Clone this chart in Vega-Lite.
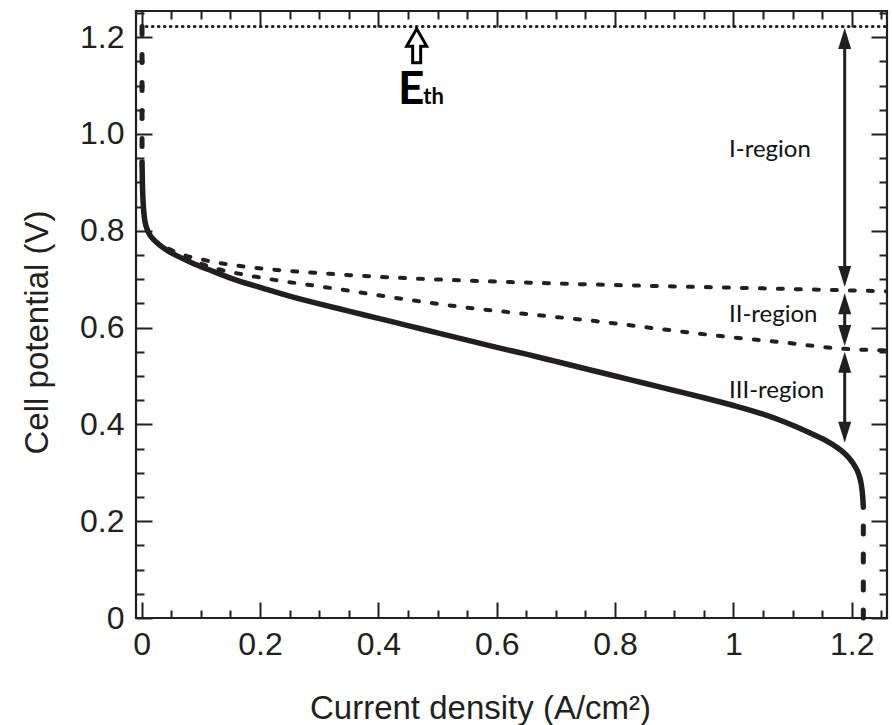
{
  "$schema": "https://vega.github.io/schema/vega-lite/v6.json",
  "width": 751,
  "height": 607,
  "autosize": {"type": "none"},
  "padding": {"left": 136, "top": 11, "right": 5, "bottom": 107},
  "background": "white",
  "config": {
    "view": {"stroke": "#231f20", "strokeWidth": 2.2},
    "axis": {
      "domain": false,
      "grid": false,
      "tickColor": "#231f20",
      "tickWidth": 2,
      "labelFont": "Liberation Sans",
      "labelFontSize": 32,
      "labelColor": "#231f20",
      "titleFont": "Liberation Sans",
      "titleFontSize": 33,
      "titleFontWeight": "normal",
      "titleColor": "#231f20"
    }
  },
  "datasets": {
    "eth": [{"x": 0.008, "y": 1.222}, {"x": 1.2595, "y": 1.222}],
    "solid": [
      {"x": 0.0006, "y": 0.942}, {"x": 0.0012, "y": 0.9}, {"x": 0.002, "y": 0.87}, {"x": 0.003, "y": 0.848},
      {"x": 0.0045, "y": 0.828}, {"x": 0.0065, "y": 0.814}, {"x": 0.0095, "y": 0.802}, {"x": 0.014, "y": 0.791},
      {"x": 0.02, "y": 0.782}, {"x": 0.03, "y": 0.771}, {"x": 0.045, "y": 0.758}, {"x": 0.065, "y": 0.745},
      {"x": 0.09, "y": 0.731}, {"x": 0.121, "y": 0.716}, {"x": 0.16, "y": 0.698}, {"x": 0.2055, "y": 0.681},
      {"x": 0.25, "y": 0.665}, {"x": 0.3, "y": 0.649}, {"x": 0.35, "y": 0.634}, {"x": 0.4, "y": 0.619},
      {"x": 0.45, "y": 0.604}, {"x": 0.5, "y": 0.589}, {"x": 0.55, "y": 0.574}, {"x": 0.6, "y": 0.559},
      {"x": 0.65, "y": 0.545}, {"x": 0.7, "y": 0.53}, {"x": 0.75, "y": 0.515}, {"x": 0.8, "y": 0.5},
      {"x": 0.85, "y": 0.485}, {"x": 0.9, "y": 0.47}, {"x": 0.95, "y": 0.455}, {"x": 1.0, "y": 0.439},
      {"x": 1.05, "y": 0.421}, {"x": 1.08, "y": 0.408}, {"x": 1.11, "y": 0.393}, {"x": 1.135, "y": 0.379},
      {"x": 1.16, "y": 0.364}, {"x": 1.18, "y": 0.348}, {"x": 1.195, "y": 0.331}, {"x": 1.205, "y": 0.314},
      {"x": 1.212, "y": 0.296}, {"x": 1.216, "y": 0.276}, {"x": 1.2185, "y": 0.25}, {"x": 1.2195, "y": 0.229}
    ],
    "upper": [
      {"x": 0.02, "y": 0.782}, {"x": 0.03, "y": 0.773}, {"x": 0.045, "y": 0.763}, {"x": 0.065, "y": 0.7525},
      {"x": 0.1, "y": 0.741}, {"x": 0.161, "y": 0.728}, {"x": 0.22, "y": 0.72}, {"x": 0.318, "y": 0.711},
      {"x": 0.45, "y": 0.702}, {"x": 0.6, "y": 0.695}, {"x": 0.763, "y": 0.689}, {"x": 0.9, "y": 0.685},
      {"x": 1.05, "y": 0.681}, {"x": 1.188, "y": 0.677}, {"x": 1.2595, "y": 0.675}
    ],
    "lower": [
      {"x": 0.02, "y": 0.782}, {"x": 0.035, "y": 0.768}, {"x": 0.055, "y": 0.754}, {"x": 0.08, "y": 0.741},
      {"x": 0.127, "y": 0.7215}, {"x": 0.17, "y": 0.71}, {"x": 0.222, "y": 0.699}, {"x": 0.318, "y": 0.682},
      {"x": 0.42, "y": 0.663}, {"x": 0.538, "y": 0.643}, {"x": 0.65, "y": 0.628}, {"x": 0.769, "y": 0.613},
      {"x": 0.87, "y": 0.598}, {"x": 0.966, "y": 0.584}, {"x": 1.079, "y": 0.57}, {"x": 1.188, "y": 0.556},
      {"x": 1.2595, "y": 0.553}
    ],
    "vleft": [{"x": 0.0006, "y": 1.222, "y2": 0.95}],
    "vright": [{"x": 1.2195, "y": 0.0, "y2": 0.225}],
    "shafts": [
      {"x": 1.188, "y": 1.205, "y2": 0.698},
      {"x": 1.188, "y": 0.657, "y2": 0.576},
      {"x": 1.188, "y": 0.536, "y2": 0.376}
    ],
    "heads": [
      {"x": 1.188, "y": 1.219, "dir": "up"},
      {"x": 1.188, "y": 0.684, "dir": "down"},
      {"x": 1.188, "y": 0.671, "dir": "up"},
      {"x": 1.188, "y": 0.562, "dir": "down"},
      {"x": 1.188, "y": 0.55, "dir": "up"},
      {"x": 1.188, "y": 0.362, "dir": "down"}
    ],
    "eth_arrow": [{"x": 0.4647, "y": 1.2175}],
    "regions": [
      {"x": 0.9925, "y": 0.952, "label": "I-region"},
      {"x": 0.9925, "y": 0.611, "label": "II-region"},
      {"x": 0.9925, "y": 0.454, "label": "III-region"}
    ],
    "e_big": [{"x": 0.433, "y": 1.062, "label": "E"}],
    "e_sub": [{"x": 0.476, "y": 1.062, "label": "th"}]
  },
  "resolve": {"axis": {"x": "independent", "y": "independent"}},
  "layer": [
    {
      "data": {"name": "eth"},
      "mark": {"type": "line", "color": "#231f20", "strokeWidth": 3.2, "strokeDash": [0.5, 5.5], "strokeCap": "round", "clip": true},
      "encoding": {
        "x": {"field": "x", "type": "quantitative",
              "scale": {"domain": [-0.0096, 1.2595], "nice": false, "zero": false},
              "axis": {"orient": "bottom", "values": [0, 0.2, 0.4, 0.6, 0.8, 1, 1.2], "format": "~g",
                       "tickSize": -16, "labelPadding": 27, "labelFlush": false, "labelOverlap": false,
                       "title": "Current density (A/cm²)", "titleX": 344, "titleY": 100,
                       "titleAlign": "center", "titleBaseline": "alphabetic"}},
        "y": {"field": "y", "type": "quantitative",
              "scale": {"domain": [0, 1.254], "nice": false, "zero": false},
              "axis": {"orient": "left", "values": [0, 0.2, 0.4, 0.6, 0.8, 1, 1.2],
                       "labelExpr": "datum.value == 0 ? '0' : format(datum.value, '.1f')",
                       "tickSize": -16, "labelPadding": 28, "labelFlush": false, "labelOverlap": false,
                       "title": "Cell potential (V)", "titleAngle": 270, "titleX": -89, "titleY": 321,
                       "titleAlign": "center", "titleBaseline": "alphabetic"}}
      }
    },
    {
      "data": {"name": "solid"},
      "mark": {"type": "line", "color": "#231f20", "strokeWidth": 5.5, "strokeCap": "round", "strokeJoin": "round", "interpolate": "monotone", "clip": true},
      "encoding": {
        "x": {"field": "x", "type": "quantitative",
              "scale": {"domain": [-0.0096, 1.2595], "nice": false, "zero": false},
              "axis": {"orient": "top", "values": [0, 0.2, 0.4, 0.6, 0.8, 1, 1.2], "tickSize": -16, "labels": false, "title": null}},
        "y": {"field": "y", "type": "quantitative",
              "scale": {"domain": [0, 1.254], "nice": false, "zero": false},
              "axis": {"orient": "right", "values": [0, 0.2, 0.4, 0.6, 0.8, 1, 1.2], "tickSize": -16, "labels": false, "title": null}}
      }
    },
    {
      "data": {"name": "vleft"},
      "mark": {"type": "rule", "color": "#231f20", "strokeWidth": 5, "strokeDash": [8, 20], "strokeCap": "round"},
      "encoding": {
        "x": {"field": "x", "type": "quantitative",
              "scale": {"domain": [-0.0096, 1.2595], "nice": false, "zero": false},
              "axis": {"orient": "bottom", "values": [0.05, 0.1, 0.15, 0.25, 0.3, 0.35, 0.45, 0.5, 0.55, 0.65, 0.7, 0.75, 0.85, 0.9, 0.95, 1.05, 1.1, 1.15, 1.25],
                       "tickSize": -8, "labels": false, "title": null}},
        "y": {"field": "y", "type": "quantitative",
              "scale": {"domain": [0, 1.254], "nice": false, "zero": false},
              "axis": {"orient": "left", "values": [0.05, 0.1, 0.15, 0.25, 0.3, 0.35, 0.45, 0.5, 0.55, 0.65, 0.7, 0.75, 0.85, 0.9, 0.95, 1.05, 1.1, 1.15, 1.25],
                       "tickSize": -8, "labels": false, "title": null}},
        "y2": {"field": "y2"}
      }
    },
    {
      "data": {"name": "vright"},
      "mark": {"type": "rule", "color": "#231f20", "strokeWidth": 5, "strokeDash": [8, 20], "strokeCap": "round"},
      "encoding": {
        "x": {"field": "x", "type": "quantitative",
              "scale": {"domain": [-0.0096, 1.2595], "nice": false, "zero": false},
              "axis": {"orient": "top", "values": [0.05, 0.1, 0.15, 0.25, 0.3, 0.35, 0.45, 0.5, 0.55, 0.65, 0.7, 0.75, 0.85, 0.9, 0.95, 1.05, 1.1, 1.15, 1.25],
                       "tickSize": -8, "labels": false, "title": null}},
        "y": {"field": "y", "type": "quantitative",
              "scale": {"domain": [0, 1.254], "nice": false, "zero": false},
              "axis": {"orient": "right", "values": [0.05, 0.1, 0.15, 0.25, 0.3, 0.35, 0.45, 0.5, 0.55, 0.65, 0.7, 0.75, 0.85, 0.9, 0.95, 1.05, 1.1, 1.15, 1.25],
                       "tickSize": -8, "labels": false, "title": null}},
        "y2": {"field": "y2"}
      }
    },
    {
      "data": {"name": "upper"},
      "mark": {"type": "line", "color": "#231f20", "strokeWidth": 4, "strokeDash": [5, 13], "strokeCap": "round", "interpolate": "monotone", "clip": true},
      "encoding": {
        "x": {"field": "x", "type": "quantitative", "scale": {"domain": [-0.0096, 1.2595], "nice": false, "zero": false}, "axis": null},
        "y": {"field": "y", "type": "quantitative", "scale": {"domain": [0, 1.254], "nice": false, "zero": false}, "axis": null}
      }
    },
    {
      "data": {"name": "lower"},
      "mark": {"type": "line", "color": "#231f20", "strokeWidth": 4, "strokeDash": [5, 13], "strokeCap": "round", "interpolate": "monotone", "clip": true},
      "encoding": {
        "x": {"field": "x", "type": "quantitative", "scale": {"domain": [-0.0096, 1.2595], "nice": false, "zero": false}, "axis": null},
        "y": {"field": "y", "type": "quantitative", "scale": {"domain": [0, 1.254], "nice": false, "zero": false}, "axis": null}
      }
    },
    {
      "data": {"name": "shafts"},
      "mark": {"type": "rule", "color": "#231f20", "strokeWidth": 3},
      "encoding": {
        "x": {"field": "x", "type": "quantitative", "scale": {"domain": [-0.0096, 1.2595], "nice": false, "zero": false}, "axis": null},
        "y": {"field": "y", "type": "quantitative", "scale": {"domain": [0, 1.254], "nice": false, "zero": false}, "axis": null},
        "y2": {"field": "y2"}
      }
    },
    {
      "data": {"name": "heads"},
      "mark": {"type": "point", "filled": true, "color": "#231f20", "opacity": 1, "size": 100},
      "encoding": {
        "x": {"field": "x", "type": "quantitative", "scale": {"domain": [-0.0096, 1.2595], "nice": false, "zero": false}, "axis": null},
        "y": {"field": "y", "type": "quantitative", "scale": {"domain": [0, 1.254], "nice": false, "zero": false}, "axis": null},
        "shape": {"field": "dir", "type": "nominal", "legend": null,
                  "scale": {"domain": ["up", "down"], "range": ["M0,0 L1.3,4.2 L-1.3,4.2 Z", "M0,0 L1.3,-4.2 L-1.3,-4.2 Z"]}}
      }
    },
    {
      "data": {"name": "eth_arrow"},
      "mark": {"type": "point", "filled": true, "fill": "white", "stroke": "#000000", "strokeWidth": 3, "opacity": 1, "size": 100,
               "shape": "M0,0 L2.0,3.5 L0.8,3.5 L0.8,6.8 L-0.8,6.8 L-0.8,3.5 L-2.0,3.5 Z"},
      "encoding": {
        "x": {"field": "x", "type": "quantitative", "scale": {"domain": [-0.0096, 1.2595], "nice": false, "zero": false}, "axis": null},
        "y": {"field": "y", "type": "quantitative", "scale": {"domain": [0, 1.254], "nice": false, "zero": false}, "axis": null}
      }
    },
    {
      "data": {"name": "regions"},
      "mark": {"type": "text", "align": "left", "baseline": "alphabetic", "font": "Lato", "fontSize": 24, "color": "#111111"},
      "encoding": {
        "x": {"field": "x", "type": "quantitative", "scale": {"domain": [-0.0096, 1.2595], "nice": false, "zero": false}, "axis": null},
        "y": {"field": "y", "type": "quantitative", "scale": {"domain": [0, 1.254], "nice": false, "zero": false}, "axis": null},
        "text": {"field": "label"}
      }
    },
    {
      "data": {"name": "e_big"},
      "mark": {"type": "text", "align": "left", "baseline": "alphabetic", "font": "Lato", "fontWeight": "bold", "fontSize": 46, "color": "#000000"},
      "encoding": {
        "x": {"field": "x", "type": "quantitative", "scale": {"domain": [-0.0096, 1.2595], "nice": false, "zero": false}, "axis": null},
        "y": {"field": "y", "type": "quantitative", "scale": {"domain": [0, 1.254], "nice": false, "zero": false}, "axis": null},
        "text": {"field": "label"}
      }
    },
    {
      "data": {"name": "e_sub"},
      "mark": {"type": "text", "align": "left", "baseline": "alphabetic", "font": "Lato", "fontWeight": "bold", "fontSize": 22, "color": "#000000"},
      "encoding": {
        "x": {"field": "x", "type": "quantitative", "scale": {"domain": [-0.0096, 1.2595], "nice": false, "zero": false}, "axis": null},
        "y": {"field": "y", "type": "quantitative", "scale": {"domain": [0, 1.254], "nice": false, "zero": false}, "axis": null},
        "text": {"field": "label"}
      }
    }
  ]
}
